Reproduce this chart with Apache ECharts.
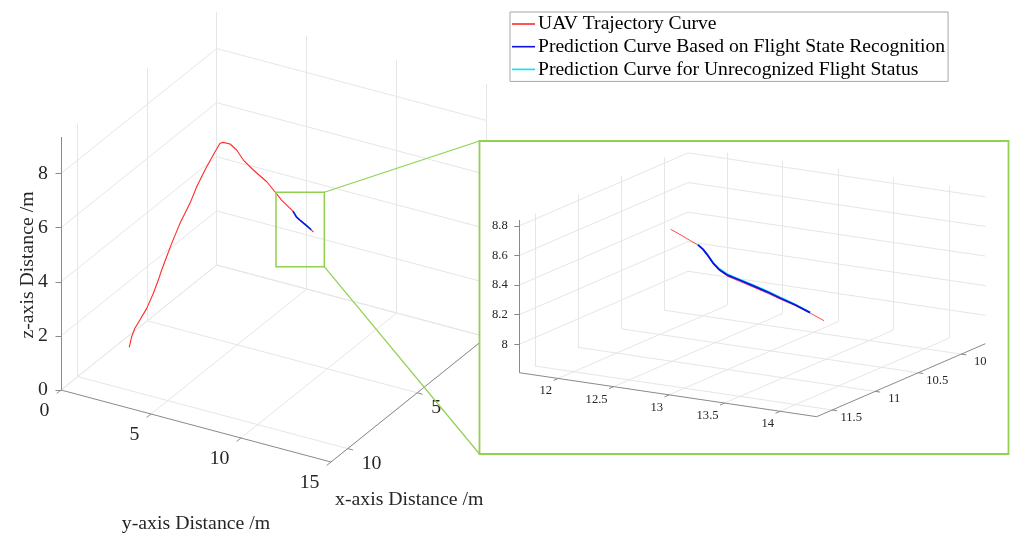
<!DOCTYPE html>
<html>
<head>
<meta charset="utf-8">
<title>UAV trajectory prediction</title>
<script src="https://cdn.jsdelivr.net/npm/echarts@6/dist/echarts.min.js"></script>
<style>
  html, body { margin: 0; padding: 0; background: #fff; }
  #chart { width: 1035px; height: 538px; }
</style>
</head>
<body>
<div id="chart"></div>
<script>
// trajectory (m)
const trajX = [9.93, 9.81, 9.73, 9.63, 9.54, 9.41, 9.34, 9.24, 9.17, 9.09, 8.96, 8.80, 8.65, 8.56, 8.50, 8.41, 8.47, 8.40, 8.47, 8.75, 8.97, 9.19, 9.50, 9.81,
  10.041, 10.111, 10.172, 10.227, 10.261, 10.295, 10.329, 10.370, 10.431, 10.513, 10.594, 10.696, 10.785, 10.887, 10.989, 11.084];
const trajY = [2.81, 2.85, 2.97, 3.17, 3.48, 3.75, 3.97, 4.08, 4.30, 4.52, 4.88, 5.31, 5.57, 5.96, 6.37, 6.68, 6.90, 7.23, 7.65, 8.24, 8.96, 9.88, 10.57, 11.18,
  11.743, 11.890, 12.019, 12.133, 12.205, 12.276, 12.348, 12.433, 12.562, 12.733, 12.905, 13.119, 13.305, 13.519, 13.734, 13.933];
const trajZ = [1.55, 1.90, 2.20, 2.50, 2.95, 3.50, 4.00, 4.35, 4.85, 5.35, 6.10, 6.85, 7.45, 8.10, 8.70, 9.15, 9.25, 9.22, 9.10, 8.95, 8.80, 8.62, 8.50, 8.43,
  8.375, 8.370, 8.363, 8.359, 8.345, 8.318, 8.283, 8.259, 8.245, 8.251, 8.256, 8.262, 8.264, 8.270, 8.269, 8.263];

// prediction with flight state recognition
const blueX = [10.227, 10.261, 10.295, 10.329, 10.370, 10.431, 10.513, 10.594, 10.696, 10.785, 10.887, 10.989];
const blueY = [12.133, 12.205, 12.276, 12.348, 12.433, 12.562, 12.733, 12.905, 13.119, 13.305, 13.519, 13.734];
const blueZ = [8.360, 8.346, 8.320, 8.286, 8.263, 8.252, 8.259, 8.264, 8.270, 8.271, 8.275, 8.271];

// prediction without flight state recognition
const cyanX = [10.227, 10.261, 10.295, 10.329, 10.370, 10.431, 10.513, 10.594, 10.696, 10.785, 10.887, 10.989];
const cyanY = [12.133, 12.205, 12.276, 12.348, 12.433, 12.562, 12.733, 12.905, 13.119, 13.305, 13.519, 13.734];
const cyanZ = [8.361, 8.348, 8.323, 8.290, 8.270, 8.258, 8.265, 8.270, 8.276, 8.277, 8.279, 8.272];

const seriesNames = ['UAV Trajectory Curve', 'Prediction Curve Based on Flight State Recognition', 'Prediction Curve for Unrecognized Flight Status'];

// axes
const mainXTicks = [0, 5, 10];
const mainYTicks = [0, 5, 10, 15];
const mainZTicks = [0, 2, 4, 6, 8];
const mainLim = { x: [0, 11.2], y: [0, 15], z: [0, 9.35] };

const insetXTicks = [10, 10.5, 11, 11.5];
const insetYTicks = [12, 12.5, 13, 13.5, 14];
const insetZTicks = [8, 8.2, 8.4, 8.6, 8.8];
const insetLim = { x: [9.72, 11.68], y: [11.65, 14.33], z: [7.808, 8.84] };

// where each 3-D box sits on the page: corner (xmin,ymin,zmin) and the span of each full axis
const mainView = { o: [216.7, 265], ex: [-155.7, 125], ey: [270, 72], ez: [0, -253],
  tickLen: 5.5, zLab: [-13, 0], yLab: [-11.5, 21], yAlign: 'right', xLab: [14, 15], xAlign: 'left', font: 19.8 };
const insetView = { o: [688, 299.7], ex: [-168.7, 73], ey: [297.4, 44], ez: [0, -152.7],
  tickLen: 5, zLab: [-11.5, 0], yLab: [-6, 12.6], yAlign: 'right', xLab: [19, 7.8], xAlign: 'center', font: 12.6 };

const FONT = '"Liberation Serif", "Times New Roman", serif';
const GRID_COLOR = '#e6e6e6';
const AXIS_COLOR = '#8a8a8a';
const TEXT_COLOR = '#262626';

function project(view, lim, x, y, z) {
  const fx = (x - lim.x[0]) / (lim.x[1] - lim.x[0]);
  const fy = (y - lim.y[0]) / (lim.y[1] - lim.y[0]);
  const fz = (z - lim.z[0]) / (lim.z[1] - lim.z[0]);
  return [
    view.o[0] + fx * view.ex[0] + fy * view.ey[0] + fz * view.ez[0],
    view.o[1] + fx * view.ex[1] + fy * view.ey[1] + fz * view.ez[1]
  ];
}

function unit(v) {
  const l = Math.hypot(v[0], v[1]);
  return [v[0] / l, v[1] / l];
}

function segSeries(segs, color, width, z) {
  return {
    type: 'lines', coordinateSystem: 'cartesian2d', silent: true, z,
    polyline: false,
    lineStyle: { color, width, opacity: 1 },
    data: segs.map(s => ({ coords: s }))
  };
}

function textSeries(anchors, texts, align, size, z) {
  return {
    type: 'custom', coordinateSystem: 'cartesian2d', silent: true, z,
    data: anchors,
    renderItem: (params, api) => {
      const pt = api.coord([api.value(0), api.value(1)]);
      return {
        type: 'text', x: pt[0], y: pt[1],
        style: {
          text: texts[params.dataIndex], font: size + 'px ' + FONT, fill: TEXT_COLOR,
          align, verticalAlign: 'middle', textAlign: align, textVerticalAlign: 'middle'
        }
      };
    }
  };
}

function boxSeries(view, lim, xt, yt, zt, z) {
  const P = (x, y, zz) => project(view, lim, x, y, zz);
  const [x0, x1] = lim.x, [y0, y1] = lim.y, [z0, z1] = lim.z;
  const grid = [];
  xt.forEach(t => {
    grid.push([P(t, y0, z0), P(t, y1, z0)]);   // floor
    grid.push([P(t, y0, z0), P(t, y0, z1)]);   // left wall
  });
  yt.forEach(t => {
    grid.push([P(x0, t, z0), P(x1, t, z0)]);   // floor
    grid.push([P(x0, t, z0), P(x0, t, z1)]);   // back wall
  });
  zt.forEach(t => {
    grid.push([P(x0, y0, t), P(x1, y0, t)]);   // left wall
    grid.push([P(x0, y0, t), P(x0, y1, t)]);   // back wall
  });

  const axes = [
    [P(x1, y0, z0), P(x1, y0, z1)],
    [P(x1, y0, z0), P(x1, y1, z0)],
    [P(x0, y1, z0), P(x1, y1, z0)]
  ];

  const dx = unit(view.ex), dy = unit(view.ey), L = view.tickLen;
  const ticks = [];
  const zAnchors = zt.map(t => {
    const p = P(x1, y0, t);
    ticks.push([p, [p[0] - L, p[1]]]);
    return [p[0] + view.zLab[0], p[1] + view.zLab[1]];
  });
  const yAnchors = yt.map(t => {
    const p = P(x1, t, z0);
    ticks.push([p, [p[0] + dx[0] * L, p[1] + dx[1] * L]]);
    return [p[0] + view.yLab[0], p[1] + view.yLab[1]];
  });
  const xAnchors = xt.map(t => {
    const p = P(t, y1, z0);
    ticks.push([p, [p[0] + dy[0] * L, p[1] + dy[1] * L]]);
    return [p[0] + view.xLab[0], p[1] + view.xLab[1]];
  });

  return [
    segSeries(grid, GRID_COLOR, 1, z),
    segSeries(axes, AXIS_COLOR, 1, z + 1),
    segSeries(ticks, AXIS_COLOR, 1, z + 1),
    textSeries(zAnchors, zt.map(String), 'right', view.font, z + 1),
    textSeries(yAnchors, yt.map(String), view.yAlign, view.font, z + 1),
    textSeries(xAnchors, xt.map(String), view.xAlign, view.font, z + 1)
  ];
}

function curve(view, lim, xs, ys, zs, name, color, width, z, clip) {
  const pts = [];
  xs.forEach((x, i) => {
    const inside = x >= lim.x[0] && x <= lim.x[1] && ys[i] >= lim.y[0] && ys[i] <= lim.y[1] && zs[i] >= lim.z[0] && zs[i] <= lim.z[1];
    if (!clip || inside) pts.push(project(view, lim, x, ys[i], zs[i]));
  });
  return {
    type: 'line', name, data: pts, z,
    showSymbol: false, symbol: 'none', silent: true,
    color, itemStyle: { color }, lineStyle: { color, width }
  };
}

const GREEN = '#92d050';
const titleStyle = { font: '19.8px ' + FONT, fill: TEXT_COLOR, verticalAlign: 'middle', textVerticalAlign: 'middle' };

const chart = echarts.init(document.getElementById('chart'), null, { renderer: 'canvas' });

const option = {
  animation: false,
  backgroundColor: '#fff',
  grid: { left: 0, top: 0, right: 0, bottom: 0 },
  xAxis: { type: 'value', min: 0, max: 1035, show: false },
  yAxis: { type: 'value', min: 0, max: 538, inverse: true, show: false },
  legend: {
    data: seriesNames,
    orient: 'vertical',
    left: 510, top: 12,
    padding: [1, 3, 1, 2],
    itemGap: 0.7,
    itemWidth: 23, itemHeight: 1.6,
    icon: 'rect',
    backgroundColor: '#fff',
    borderColor: '#a6a6a6',
    borderWidth: 1,
    selectedMode: false,
    textStyle: { fontFamily: FONT, fontSize: 19.6, color: '#000', lineHeight: 22, padding: [0, 0, 0, -2] }
  },
  graphic: [
    { type: 'text', x: 28, y: 265, rotation: Math.PI / 2, z: 3,
      style: Object.assign({ text: 'z-axis Distance /m', align: 'center', textAlign: 'center' }, titleStyle) },
    { type: 'text', x: 196, y: 524, z: 3,
      style: Object.assign({ text: 'y-axis Distance /m', align: 'center', textAlign: 'center' }, titleStyle) },
    { type: 'text', x: 335, y: 500, z: 3,
      style: Object.assign({ text: 'x-axis Distance /m', align: 'left', textAlign: 'left' }, titleStyle) },
    { type: 'rect', z: 6, shape: { x: 276, y: 192.3, width: 48.3, height: 74.4 },
      style: { fill: 'none', stroke: GREEN, lineWidth: 1.5 } },
    { type: 'line', z: 6, shape: { x1: 324.3, y1: 192.3, x2: 479.5, y2: 141 },
      style: { stroke: GREEN, lineWidth: 1.2 } },
    { type: 'line', z: 6, shape: { x1: 324.3, y1: 266.7, x2: 479.5, y2: 454 },
      style: { stroke: GREEN, lineWidth: 1.2 } },
    { type: 'rect', z: 7, shape: { x: 479.5, y: 141, width: 529, height: 313 },
      style: { fill: '#fff', stroke: GREEN, lineWidth: 1.8 } }
  ],
  series: [
    ...boxSeries(mainView, mainLim, mainXTicks, mainYTicks, mainZTicks, 2),
    curve(mainView, mainLim, trajX, trajY, trajZ, seriesNames[0], '#ff2a2a', 1.1, 4, false),
    curve(mainView, mainLim, cyanX, cyanY, cyanZ, seriesNames[2], '#00e5ff', 1.3, 4, false),
    curve(mainView, mainLim, blueX, blueY, blueZ, seriesNames[1], '#1010e0', 1.5, 5, false),

    ...boxSeries(insetView, insetLim, insetXTicks, insetYTicks, insetZTicks, 10),
    curve(insetView, insetLim, trajX, trajY, trajZ, seriesNames[0], '#ff4a4a', 1, 12, true),
    curve(insetView, insetLim, cyanX, cyanY, cyanZ, seriesNames[2], '#00e5ff', 1.6, 12, true),
    curve(insetView, insetLim, blueX, blueY, blueZ, seriesNames[1], '#1010e0', 1.8, 13, true)
  ]
};

chart.setOption(option);
window.addEventListener('resize', () => chart.resize());
</script>
</body>
</html>
